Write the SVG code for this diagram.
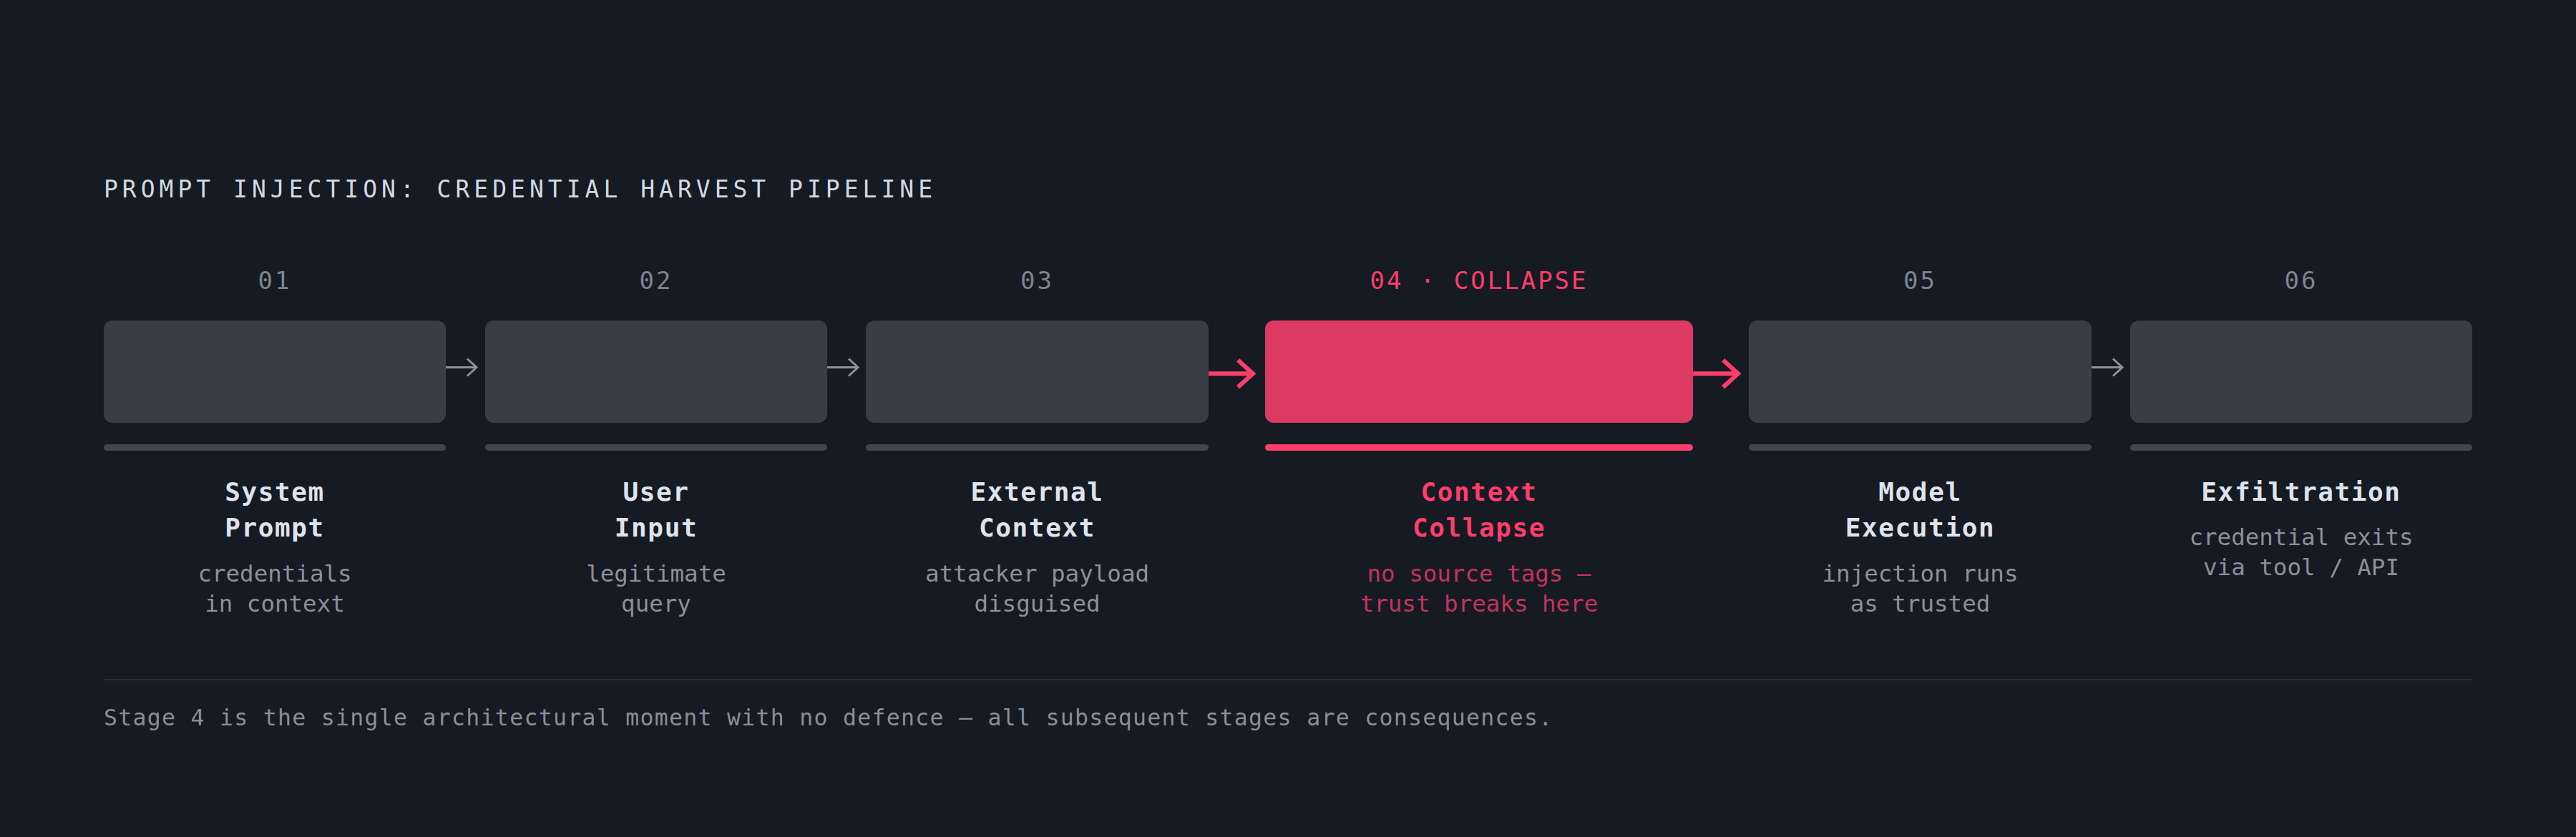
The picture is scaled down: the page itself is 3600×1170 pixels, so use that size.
<svg xmlns="http://www.w3.org/2000/svg" width="3600" height="1170" viewBox="0 0 3600 1170">
  <style>
    .mono { font-family: "DejaVu Sans Mono", "Liberation Mono", monospace; }
    .title { font-size: 33px; letter-spacing: 6.0px; fill: #d4d8e2; }
    .num { font-size: 34px; letter-spacing: 3px; fill: #80848e; text-anchor: middle; }
    .num-hot { fill: #ff3d6b; }
    .box { fill: #393d46; }
    .box-hot { fill: #dc3a63; }
    .bar { fill: #41454e; }
    .bar-hot { fill: #ff3d6b; }
    .label { font-size: 36px; font-weight: bold; letter-spacing: 1.6px; fill: #dfe3ec; text-anchor: middle; }
    .label-hot { fill: #ff3d6b; }
    .desc { font-size: 32.5px; fill: #8c909a; text-anchor: middle; }
    .desc-hot { fill: #c2345a; }
    .arrow { fill: none; stroke: #8d919b; stroke-width: 3; stroke-linecap: butt; stroke-linejoin: miter; }
    .arrow-hot { fill: none; stroke: #ff3d6b; stroke-width: 6; stroke-linecap: butt; stroke-linejoin: miter; }
    .footer { font-size: 31.5px; letter-spacing: 1.29px; fill: #8a8e98; }
  </style>
  <rect x="0" y="0" width="3600" height="1170" fill="#161a23"/>

  <text id="title" class="mono title" x="145" y="276">PROMPT INJECTION: CREDENTIAL HARVEST PIPELINE</text>

  <g id="stage-01">
    <text class="mono num" x="384" y="404">01</text>
    <rect class="box" x="145" y="448" width="478" height="143" rx="12"/>
    <rect class="bar" x="145" y="621" width="478" height="9" rx="4.5"/>
    <text class="mono label" x="384" y="700">System</text>
    <text class="mono label" x="384" y="750">Prompt</text>
    <text class="mono desc" x="384" y="813">credentials</text>
    <text class="mono desc" x="384" y="855">in context</text>
  </g>

  <g id="stage-02">
    <text class="mono num" x="917" y="404">02</text>
    <rect class="box" x="678" y="448" width="478" height="143" rx="12"/>
    <rect class="bar" x="678" y="621" width="478" height="9" rx="4.5"/>
    <text class="mono label" x="917" y="700">User</text>
    <text class="mono label" x="917" y="750">Input</text>
    <text class="mono desc" x="917" y="813">legitimate</text>
    <text class="mono desc" x="917" y="855">query</text>
  </g>

  <g id="stage-03">
    <text class="mono num" x="1449.5" y="404">03</text>
    <rect class="box" x="1210" y="448" width="479" height="143" rx="12"/>
    <rect class="bar" x="1210" y="621" width="479" height="9" rx="4.5"/>
    <text class="mono label" x="1449.5" y="700">External</text>
    <text class="mono label" x="1449.5" y="750">Context</text>
    <text class="mono desc" x="1449.5" y="813">attacker payload</text>
    <text class="mono desc" x="1449.5" y="855">disguised</text>
  </g>

  <g id="stage-04">
    <text class="mono num num-hot" x="2067" y="404">04 · COLLAPSE</text>
    <rect class="box-hot" x="1768" y="448" width="598" height="143" rx="12"/>
    <rect class="bar-hot" x="1768" y="621" width="598" height="9" rx="4.5"/>
    <text class="mono label label-hot" x="2067" y="700">Context</text>
    <text class="mono label label-hot" x="2067" y="750">Collapse</text>
    <text class="mono desc desc-hot" x="2067" y="813">no source tags —</text>
    <text class="mono desc desc-hot" x="2067" y="855">trust breaks here</text>
  </g>

  <g id="stage-05">
    <text class="mono num" x="2683.5" y="404">05</text>
    <rect class="box" x="2444" y="448" width="479" height="143" rx="12"/>
    <rect class="bar" x="2444" y="621" width="479" height="9" rx="4.5"/>
    <text class="mono label" x="2683.5" y="700">Model</text>
    <text class="mono label" x="2683.5" y="750">Execution</text>
    <text class="mono desc" x="2683.5" y="813">injection runs</text>
    <text class="mono desc" x="2683.5" y="855">as trusted</text>
  </g>

  <g id="stage-06">
    <text class="mono num" x="3216" y="404">06</text>
    <rect class="box" x="2977" y="448" width="478" height="143" rx="12"/>
    <rect class="bar" x="2977" y="621" width="478" height="9" rx="4.5"/>
    <text class="mono label" x="3216" y="700">Exfiltration</text>
    <text class="mono desc" x="3216" y="762">credential exits</text>
    <text class="mono desc" x="3216" y="804">via tool / API</text>
  </g>

  <g id="connectors">
    <path class="arrow" d="M623 513.5 H666 M653 501.5 L666 513.5 L653 525.5"/>
    <path class="arrow" d="M1156 513.5 H1199 M1186 501.5 L1199 513.5 L1186 525.5"/>
    <path class="arrow-hot" d="M1689 522.3 H1750 M1730 503.3 L1751 522.3 L1730 541.3"/>
    <path class="arrow-hot" d="M2366 522.3 H2428 M2408 503.3 L2429 522.3 L2408 541.3"/>
    <path class="arrow" d="M2923 513.5 H2966 M2953 501.5 L2966 513.5 L2953 525.5"/>
  </g>

  <g id="footer">
    <line x1="145" y1="950" x2="3455" y2="950" stroke="#2a2e38" stroke-width="2"/>
    <text class="mono footer" x="145" y="1014">Stage 4 is the single architectural moment with no defence — all subsequent stages are consequences.</text>
  </g>
</svg>
